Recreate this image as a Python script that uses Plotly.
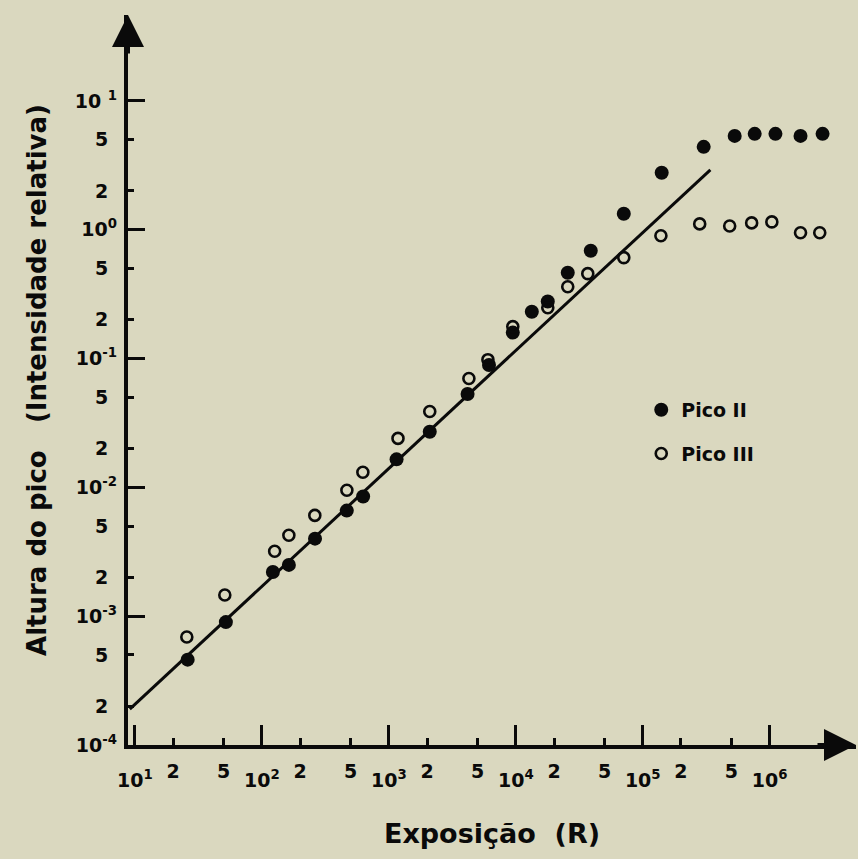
import plotly.graph_objects as go

# ---- data ----
pico2_x = [26, 52, 122, 163, 262, 466, 627, 1150, 2100, 4170, 6150, 9470, 13370, 17860,
           25660, 38950, 70900, 141000, 302000, 530000, 762000, 1.11e6, 1.75e6, 2.61e6]
pico2_y = [4.6e-4, 9.0e-4, 2.2e-3, 2.5e-3, 4.0e-3, 6.6e-3, 8.5e-3, 0.0165, 0.027, 0.053,
           0.089, 0.159, 0.231, 0.277, 0.464, 0.687, 1.33, 2.77, 4.4, 5.35, 5.55, 5.55, 5.35, 5.55]

pico3_x = [25.6, 51, 126, 163, 261, 467, 624, 1180, 2100, 4270, 6030, 9470, 17860,
           25660, 36900, 70900, 139000, 281000, 484000, 721000, 1.04e6, 1.75e6, 2.48e6]
pico3_y = [6.9e-4, 1.46e-3, 3.19e-3, 4.25e-3, 6.06e-3, 9.5e-3, 0.0131, 0.024, 0.0388, 0.070,
           0.098, 0.177, 0.248, 0.361, 0.456, 0.607, 0.898, 1.11, 1.07, 1.13, 1.15, 0.948, 0.948]

fit_x = [9.1, 3.41e5]
fit_y = [1.9e-4, 2.92]

x_minor_vals = [20, 50, 200, 500, 2000, 5000, 2e4, 5e4, 2e5, 5e5]
x_minor_text = ["2", "5"] * 5
x_major_vals = [10, 100, 1e3, 1e4, 1e5, 1e6]
x_major_text = ["10<sup>1</sup>", "10<sup>2</sup>", "10<sup>3</sup>", "10<sup>4</sup>",
                "10<sup>5</sup>", "10<sup>6</sup>"]

y_minor_vals = [2e-4, 5e-4, 2e-3, 5e-3, 2e-2, 5e-2, 0.2, 0.5, 2, 5]
y_minor_text = ["2", "5"] * 5
y_major_vals = [1e-4, 1e-3, 1e-2, 1e-1, 1, 10]
y_major_text = ["10<sup>-4</sup>", "10<sup>-3</sup>", "10<sup>-2</sup>", "10<sup>-1</sup>",
                "10<sup>0</sup>", "10 <sup>1</sup>"]

BG = "#dad8bf"
INK = "#0a0a0a"
FONT = "DejaVu Sans"

fig = go.Figure()

fig.add_trace(go.Scatter(x=fit_x, y=fit_y, mode="lines", line=dict(color=INK, width=3),
                         showlegend=False, hoverinfo="skip"))
fig.add_trace(go.Scatter(x=pico2_x, y=pico2_y, mode="markers", name="Pico II",
                         legendgroup="a",
                         marker=dict(symbol="circle", size=14, color=INK,
                                     line=dict(width=0))))
fig.add_trace(go.Scatter(x=pico3_x, y=pico3_y, mode="markers", name="Pico III",
                         legendgroup="b",
                         marker=dict(symbol="circle-open", size=11, color=INK,
                                     line=dict(width=2.6))))
# invisible trace to anchor overlay axes
fig.add_trace(go.Scatter(x=[fit_x[0]], y=[fit_y[0]], xaxis="x2", yaxis="y2", mode="markers",
                         marker=dict(opacity=0), showlegend=False, hoverinfo="skip"))

xr = [0.945, 6.68]
yr = [-4.0, 1.667]
tickfont = dict(family=FONT, size=19, color=INK, weight="bold")

fig.update_layout(
    width=858, height=859,
    margin=dict(l=128, r=2, t=15, b=114),
    paper_bgcolor=BG, plot_bgcolor=BG,
    showlegend=True,
    legend=dict(x=0.705, y=0.485, xanchor="left", yanchor="top",
                bgcolor="rgba(0,0,0,0)", traceorder="grouped", tracegroupgap=16,
                font=dict(family=FONT, size=19, color=INK, weight="bold")),
    xaxis=dict(type="log", range=xr, showgrid=False, zeroline=False,
               showline=True, linecolor=INK, linewidth=4,
               ticks="inside", ticklen=7, tickwidth=3, tickcolor=INK,
               tickvals=x_minor_vals, ticktext=x_minor_text,
               tickfont=tickfont, ticklabelstandoff=6,
               title=dict(text="Exposição\u00a0\u00a0(R)", standoff=44,
                          font=dict(family=FONT, size=27, color=INK, weight="bold"))),
    yaxis=dict(type="log", range=yr, showgrid=False, zeroline=False,
               showline=True, linecolor=INK, linewidth=4,
               ticks="inside", ticklen=6, tickwidth=3, tickcolor=INK,
               tickvals=y_minor_vals, ticktext=y_minor_text,
               tickfont=tickfont, ticklabelstandoff=12,
               title=dict(text="Altura do pico\u00a0\u00a0\u00a0(Intensidade relativa)",
                          standoff=42,
                          font=dict(family=FONT, size=26, color=INK, weight="bold"))),
    xaxis2=dict(type="log", range=xr, overlaying="x", anchor="y", side="bottom",
                showgrid=False, zeroline=False, showline=False,
                ticks="inside", ticklen=20, tickwidth=3, tickcolor=INK,
                tickvals=x_major_vals, ticktext=x_major_text,
                tickfont=tickfont, ticklabelstandoff=22),
    yaxis2=dict(type="log", range=yr, overlaying="y", anchor="x", side="left",
                showgrid=False, zeroline=False, showline=False,
                ticks="inside", ticklen=17, tickwidth=3, tickcolor=INK,
                tickvals=y_major_vals, ticktext=y_major_text,
                tickfont=tickfont, ticklabelstandoff=10),
)

# arrow heads on the axes
fig.add_annotation(x=0, y=1.0, xref="paper", yref="paper", ax=0, ay=40, text="",
                   showarrow=True, arrowhead=2, arrowsize=1.6, arrowwidth=4, arrowcolor=INK)
fig.add_annotation(x=1.0, y=0, xref="paper", yref="paper", ax=-40, ay=0, text="",
                   showarrow=True, arrowhead=2, arrowsize=1.6, arrowwidth=4, arrowcolor=INK)

fig.write_html("out.html")
